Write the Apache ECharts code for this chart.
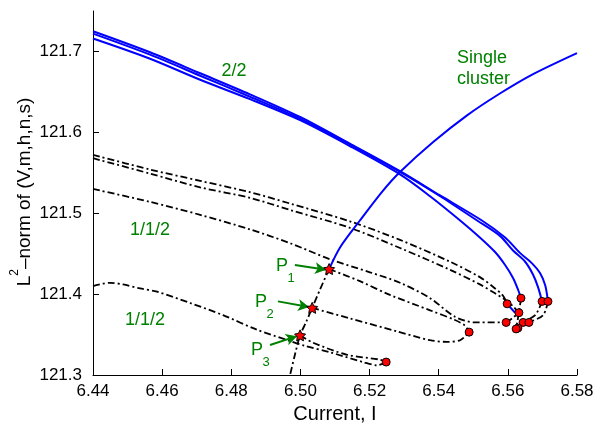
<!DOCTYPE html>
<html>
<head>
<meta charset="utf-8">
<script src="https://cdn.jsdelivr.net/npm/echarts@6/dist/echarts.min.js"></script>
<style>
  html, body { margin: 0; padding: 0; background: #fff; }
  #main { width: 601px; height: 427px; }
</style>
</head>
<body>
<div id="main"></div>
<script>
// ticks
const xTicks = [6.44, 6.46, 6.48, 6.50, 6.52, 6.54, 6.56, 6.58];
const yTicks = [121.3, 121.4, 121.5, 121.6, 121.7];

// 2/2 branch, three blue stable curves
const branch22Outer = [[6.4400,121.725],[6.4565,121.699],[6.4710,121.673],[6.4854,121.647],[6.4999,121.619],[6.5143,121.586],[6.5288,121.552],[6.5404,121.522],[6.5525,121.491],[6.5592,121.470],[6.5635,121.451],[6.5670,121.438],[6.5693,121.426],[6.5708,121.411],[6.5716,121.391]];
const branch22Mid = [[6.4400,121.722],[6.4565,121.696],[6.4710,121.670],[6.4854,121.644],[6.4999,121.617],[6.5143,121.585],[6.5288,121.551],[6.5404,121.521],[6.5511,121.491],[6.5577,121.472],[6.5615,121.454],[6.5650,121.440],[6.5673,121.424],[6.5687,121.409],[6.5699,121.391]];
const branch22Inner = [[6.4400,121.716],[6.4565,121.691],[6.4710,121.665],[6.4854,121.641],[6.4999,121.615],[6.5143,121.583],[6.5288,121.548],[6.5375,121.521],[6.5462,121.491],[6.5519,121.470],[6.5563,121.452],[6.5592,121.436],[6.5615,121.420],[6.5629,121.406],[6.5638,121.395]];
const branch22Stub = [[6.5598,121.388],[6.5621,121.377]];

// single cluster branch
const singleStable = [[6.5800,121.698],[6.5673,121.672],[6.5577,121.648],[6.5482,121.621],[6.5384,121.588],[6.5288,121.551],[6.5239,121.528],[6.5172,121.491],[6.5115,121.458],[6.5083,121.431]];
const singleUnstable = [[6.5083,121.431],[6.5057,121.406],[6.5034,121.383],[6.5016,121.365],[6.4999,121.349],[6.4984,121.325],[6.4970,121.300]];

// 1/1/2 branches (unstable, dash-dot)
const branch112a = [[6.4400,121.572],[6.4565,121.554],[6.4710,121.540],[6.4854,121.526],[6.4970,121.512],[6.5143,121.490],[6.5288,121.467],[6.5433,121.440],[6.5519,121.421],[6.5563,121.407],[6.5586,121.398],[6.5598,121.388]];
const branch112b = [[6.4400,121.568],[6.4565,121.549],[6.4710,121.532],[6.4854,121.519],[6.4970,121.504],[6.5143,121.482],[6.5288,121.457],[6.5433,121.430],[6.5519,121.412],[6.5563,121.401],[6.5592,121.393],[6.5615,121.385],[6.5632,121.377]];
const branch112c = [[6.4400,121.530],[6.4565,121.514],[6.4710,121.498],[6.4854,121.480],[6.4970,121.463],[6.5086,121.443],[6.5201,121.427],[6.5288,121.414],[6.5375,121.395],[6.5447,121.372],[6.5505,121.365],[6.5595,121.365]];
const branchP1 = [[6.5083,121.431],[6.5172,121.416],[6.5259,121.399],[6.5375,121.380],[6.5447,121.368],[6.5476,121.361],[6.5488,121.353]];
const branchP2 = [[6.5034,121.383],[6.5143,121.370],[6.5279,121.354],[6.5375,121.343],[6.5424,121.341],[6.5462,121.343],[6.5488,121.353]];
const branchLow = [[6.4400,121.410],[6.4449,121.414],[6.4487,121.412],[6.4536,121.407],[6.4585,121.403],[6.4681,121.389],[6.4776,121.374],[6.4874,121.356],[6.4970,121.342],[6.5013,121.336],[6.5086,121.328],[6.5181,121.316],[6.5222,121.312],[6.5248,121.316]];
const branchP3 = [[6.4999,121.349],[6.5036,121.340],[6.5135,121.325],[6.5230,121.319],[6.5248,121.316]];

// short connecting pieces near the fold cluster
const clusterA = [[6.5638,121.395],[6.5632,121.377],[6.5627,121.365],[6.5624,121.357]];
const clusterB = [[6.5595,121.365],[6.5612,121.370],[6.5632,121.377]];
const clusterC = [[6.5699,121.391],[6.5679,121.374],[6.5644,121.365],[6.5629,121.358]];
const clusterD = [[6.5716,121.391],[6.5702,121.374],[6.5661,121.365],[6.5629,121.358]];

// fold points (red dots) and branch points P1..P3
const foldPoints = [[6.5638,121.395],[6.5699,121.391],[6.5716,121.391],[6.5598,121.388],[6.5632,121.377],[6.5595,121.365],[6.5644,121.365],[6.5661,121.365],[6.5629,121.358],[6.5624,121.357],[6.5488,121.353],[6.5248,121.316]];
const branchPoints = [[6.5083,121.431],[6.5034,121.383],[6.4999,121.349]];
// arrows pointing at P1..P3 (from, to)
const arrows = [[[6.4984,121.436],[6.5074,121.430]],[[6.4935,121.391],[6.5025,121.384]],[[6.4912,121.337],[6.4990,121.348]]];

const blue = '#0000ff';
const green = '#008000';
const font = 'Liberation Sans, Arial, Helvetica, sans-serif';

function blueLine(data) {
  return { type: 'line', data: data, showSymbol: false, smooth: 0.3, z: 3,
    lineStyle: { color: blue, width: 2 } };
}
function dashDot(data) {
  return { type: 'line', data: data, showSymbol: false, smooth: 0.3, z: 2,
    lineStyle: { color: '#000', width: 1.8, type: [7, 3, 2, 3] } };
}

// y axis title: L² – norm ..., laid out in a rotated group
const ctx = document.createElement('canvas').getContext('2d');
ctx.font = '19px ' + font;
const wL = ctx.measureText('L').width;
const wRest = ctx.measureText('\u2013norm of (V,m,h,n,s)').width;
ctx.font = '12px ' + font;
const wSup = ctx.measureText('2').width;
const x0 = -(wL + wSup + wRest) / 2;
const yTitle = {
  type: 'group', x: 25, y: 192, rotation: Math.PI / 2,
  children: [
    { type: 'text', x: x0, y: 0, style: { text: 'L', font: '19px ' + font, fill: '#000', verticalAlign: 'middle' } },
    { type: 'text', x: x0 + wL, y: -10, style: { text: '2', font: '12px ' + font, fill: '#000', verticalAlign: 'middle' } },
    { type: 'text', x: x0 + wL + wSup, y: 0, style: { text: '\u2013norm of (V,m,h,n,s)', font: '19px ' + font, fill: '#000', verticalAlign: 'middle' } }
  ]
};

function label(text, x, y, size, align) {
  return { type: 'text', x: x, y: y,
    style: { text: text, font: size + 'px ' + font, fill: green, align: align || 'center', verticalAlign: 'middle' } };
}

const chart = echarts.init(document.getElementById('main'));
chart.setOption({
  animation: false,
  grid: { left: 93, right: 24, top: 11, bottom: 52, containLabel: false, outerBoundsMode: 'none' },
  xAxis: {
    type: 'value', min: 6.44, max: 6.58, interval: 0.02,
    name: 'Current, I', nameLocation: 'middle', nameGap: 24,
    nameTextStyle: { fontSize: 20, color: '#000', fontFamily: font },
    axisLine: { onZero: false, lineStyle: { color: '#000', width: 1 } },
    axisTick: { inside: true, length: 6, lineStyle: { color: '#000' }, customValues: xTicks },
    axisLabel: { margin: 8, fontSize: 17, color: '#000', fontFamily: font, customValues: xTicks,
      formatter: v => v.toFixed(2) },
    splitLine: { show: false }
  },
  yAxis: {
    type: 'value', min: 121.3, max: 121.75, interval: 0.1,
    axisLine: { show: true, onZero: false, lineStyle: { color: '#000', width: 1 } },
    axisTick: { show: true, inside: true, length: 6, lineStyle: { color: '#000' }, customValues: yTicks },
    axisLabel: { margin: 11, fontSize: 17, color: '#000', fontFamily: font, customValues: yTicks,
      formatter: v => v.toFixed(1) },
    splitLine: { show: false }
  },
  graphic: [
    yTitle,
    label('2/2', 234, 71, 18),
    label('Single', 457, 58, 18, 'left'),
    label('cluster', 457, 79, 18, 'left'),
    label('1/1/2', 150, 230, 18),
    label('1/1/2', 145, 320, 18),
    label('P', 282, 266, 18),
    label('1', 291, 278, 13),
    label('P', 261, 302, 18),
    label('2', 270, 314, 13),
    label('P', 257, 350, 18),
    label('3', 266, 362, 13)
  ],
  series: [
    dashDot(branch112a),
    dashDot(branch112b),
    dashDot(branch112c),
    dashDot(branchP1),
    dashDot(branchP2),
    dashDot(branchLow),
    dashDot(branchP3),
    dashDot(singleUnstable),
    dashDot(clusterA),
    dashDot(clusterB),
    dashDot(clusterC),
    dashDot(clusterD),
    blueLine(branch22Outer),
    blueLine(branch22Mid),
    blueLine(branch22Inner),
    blueLine(branch22Stub),
    blueLine(singleStable),
    {
      type: 'scatter', data: foldPoints, symbol: 'circle', symbolSize: 8, z: 5,
      itemStyle: { color: '#ff0000', borderColor: '#000', borderWidth: 1, opacity: 1 }
    },
    {
      type: 'scatter', data: branchPoints, z: 6, symbolSize: 11,
      symbol: 'path://M0,-10 L2.9,-4 9.5,-3.1 4.8,1.5 5.9,8.1 0,5 -5.9,8.1 -4.8,1.5 -9.5,-3.1 -2.9,-4Z',
      itemStyle: { color: '#ff0000', borderColor: '#000', borderWidth: 1, opacity: 1 },
      markLine: {
        silent: true, symbol: ['none', 'arrow'], symbolSize: [9, 11], precision: 4,
        label: { show: false },
        lineStyle: { color: green, width: 2, type: 'solid' },
        data: arrows.map(a => [{ coord: a[0] }, { coord: a[1] }])
      }
    }
  ]
});
</script>
</body>
</html>
